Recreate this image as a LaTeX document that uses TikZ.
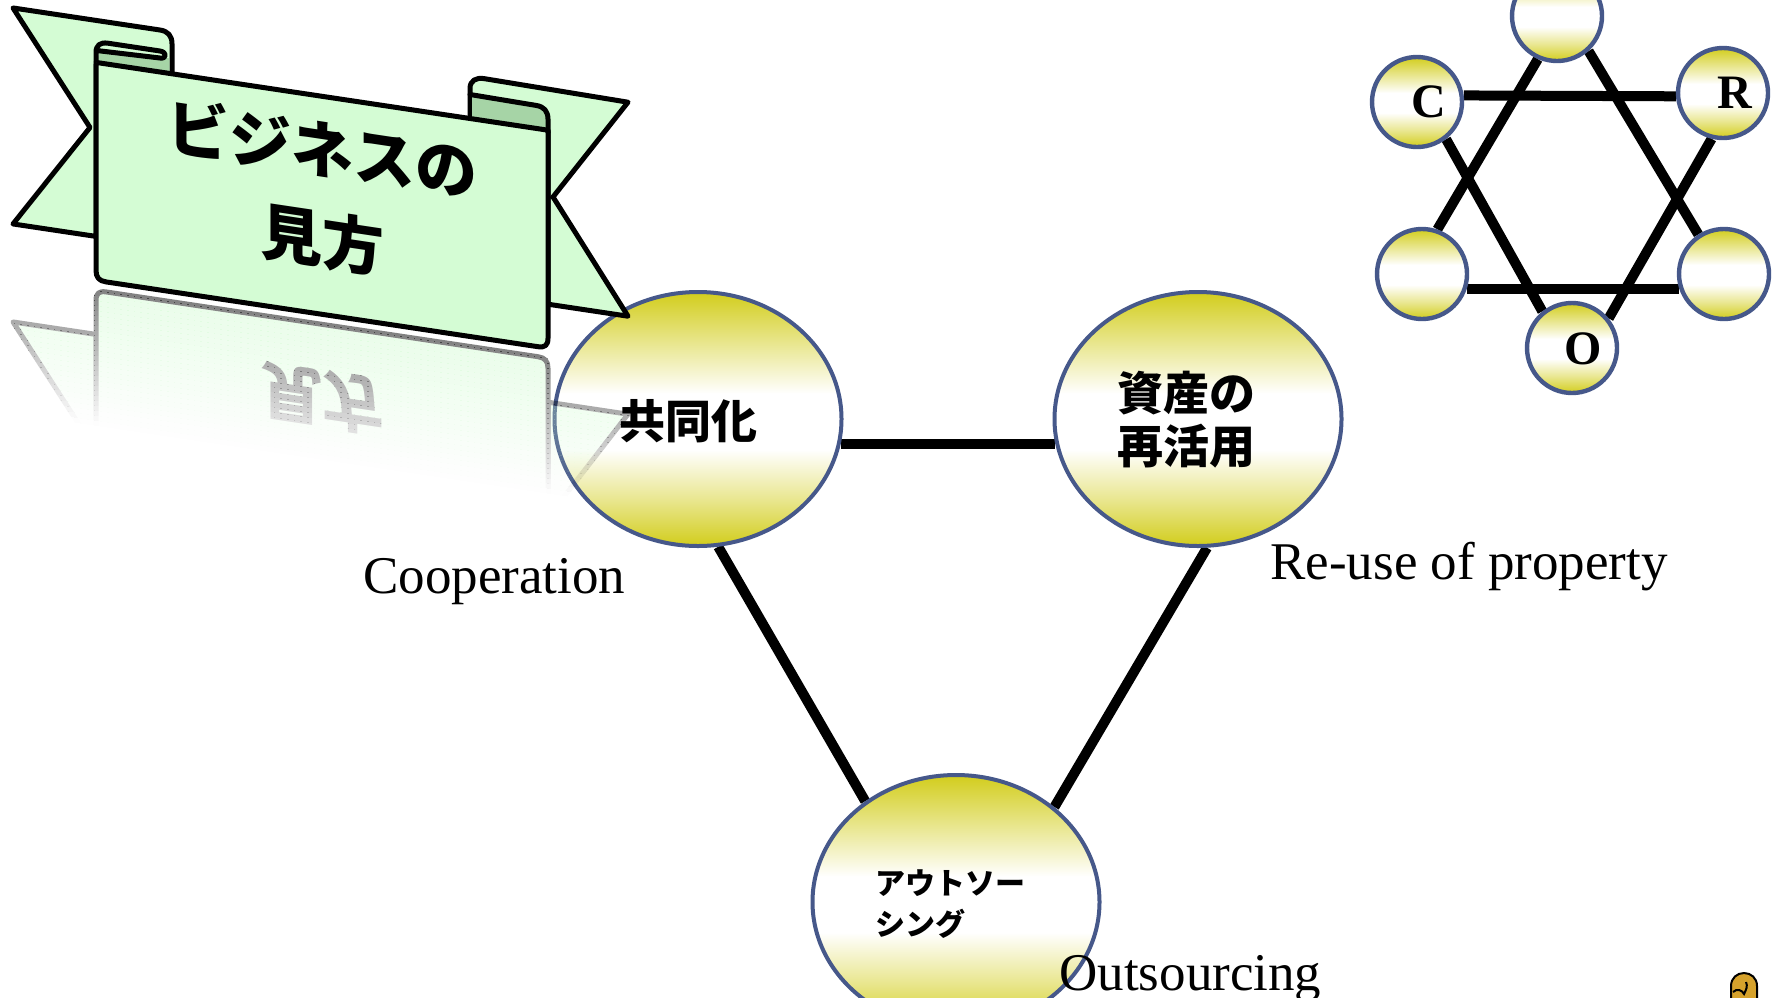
\documentclass[tikz,border=0pt]{standalone}
\usepackage{fontspec}
\setmainfont{Liberation Serif}
\newfontfamily\jp{Noto Sans CJK JP}
\usetikzlibrary{shapes.geometric}
\pgfdeclarelayer{bg}
\pgfsetlayers{bg,main}

\definecolor{ribbon}{RGB}{212,252,212}
\definecolor{ribbondark}{RGB}{166,212,166}
\definecolor{bubbleedge}{RGB}{70,88,138}
\definecolor{bubbleyellow}{RGB}{210,205,28}
\definecolor{badge}{RGB}{214,162,44}

% yellow top and bottom, broad white band just below the middle
\pgfdeclareverticalshading{bubbleshade}{100bp}{%
  color(0bp)=(bubbleyellow); color(25bp)=(bubbleyellow);
  color(34bp)=(bubbleyellow!50!white); color(44bp)=(white);
  color(55bp)=(white); color(65bp)=(bubbleyellow!50!white);
  color(75bp)=(bubbleyellow); color(100bp)=(bubbleyellow)}

% Banner drawn in its own (unslanted) frame, in pixel units
\newcommand\ribbonshapes{%
  % left tail
  \path[rib] (13,6) -- (160,6) .. controls (168,6) and (172,10) .. (172,18)
     -- (172,50) -- (96,50) -- (96,222) -- (13,222) -- (90,114) -- cycle;
  % right tail
  \path[rib] (628,8) -- (484,6) .. controls (476,6) and (470,10) .. (470,18)
     -- (470,50) -- (548,50) -- (548,222) -- (628,222) -- (553,114) -- cycle;
  % inner sides of the two folds
  \fill[ribbondark] (100,33) -- (169,33) -- (169,48) -- (97,48) -- cycle;
  \fill[ribbondark] (472,24) -- (536,25) .. controls (544,25) and (548,29) .. (548,37)
     -- (548,48) -- (472,48) -- cycle;
  % front panel
  \path[rib] (96,48) -- (96,256) .. controls (96,263) and (99,266) .. (106,266)
     -- (538,266) .. controls (545,266) and (548,263) .. (548,256) -- (548,48) -- cycle;
  % rolled edges
  \path[rib] (96,48) -- (96,38) .. controls (96,31) and (100,27) .. (108,27)
     -- (160,27) .. controls (167,27) and (167,34) .. (160,34) -- (97,36);
  \draw[ribline] (470,24) -- (536,25) .. controls (544,25) and (548,29) .. (548,37) -- (548,50);
  \node[transform shape, font=\jp\bfseries\fontsize{31}{45}\selectfont, align=center,
        inner sep=0pt] (bannertitle) at (322,146) {ビジネスの\\見方};
}

\begin{document}
\begin{tikzpicture}[x=0.5pt, y=-0.5pt,
  rib/.style={fill=ribbon, draw=black, line width=2.5pt, line join=round},
  ribline/.style={draw=black, line width=2.5pt, line cap=round, line join=round},
  bubble/.style={ellipse, draw=bubbleedge, line width=2pt, shading=bubbleshade,
     minimum width=143.5pt, minimum height=127pt, inner sep=0pt},
  dot/.style={circle, draw=bubbleedge, line width=2.2pt, shading=bubbleshade,
     minimum size=45pt, inner sep=0pt},
  link/.style={draw=black, line width=5pt},
  jptext/.style={font=\jp\bfseries\fontsize{23}{26.5}\selectfont, align=center, inner sep=0pt},
  jpsmall/.style={font=\jp\bfseries\fontsize{15}{20.5}\selectfont, align=left, inner sep=0pt},
  entext/.style={font=\fontsize{26.5}{30}\selectfont, inner sep=0pt},
  letter/.style={font=\bfseries\fontsize{24}{24}\selectfont, inner sep=0pt}]
\useasboundingbox (0,0) rectangle (1781,997);
\clip (0,0) rectangle (1781,997);
\begin{pgfonlayer}{bg}
  \fill[white] (0,0) rectangle (1781,997);
\end{pgfonlayer}

% three main bubbles
\node[bubble] (coop) at (698,419) {};
\node[bubble] (reuse) at (1198,419) {};
\node[bubble] (outs) at (956,902) {};
\node[jptext] (coopjp) at (688,421) {共同化};
\node[jptext] (reusejp) at (1186,420) {資産の\\再活用};
\node[jpsmall, anchor=west] (outsjp) at (875,904) {アウトソー\\シング};

% hexagram of small bubbles
\node[dot] (hT) at (1557,16) {};
\node[dot] (hC) at (1417,102) {};
\node[dot] (hR) at (1723,93) {};
\node[dot] (hL) at (1422,274) {};
\node[dot] (hRB) at (1724,274) {};
\node[dot] (hO) at (1572,348) {};
\node[letter] (lC) at (1429,102) {C};
\node[letter] (lR) at (1735,93) {R};
\node[letter] (lO) at (1583,349) {O};

\begin{pgfonlayer}{bg}
  \draw[link] (coop.-10) -- (reuse.190);
  \draw[link] (coop.-81) -- (outs.132);
  \draw[link] (reuse.-86) -- (outs.44);
  \draw[link] (hC.8) -- (hR.184);
  \draw[link] (hL.-18) -- (hRB.198);
  \draw[link] (hT.246) -- (hL.71);
  \draw[link] (hT.-48) -- (hRB.123);
  \draw[link] (hC.-52) -- (hO.129);
  \draw[link] (hR.256) -- (hO.39);
\end{pgfonlayer}

% English captions
\node[entext, anchor=base west] (coopen) at (363,593) {Cooperation};
\node[entext, anchor=base west] (reuseen) at (1270,579) {Re-use of property};
\node[entext, anchor=base west] (outsen) at (1059,990) {Outsourcing};

% slanted banner with its fading mirror image
\begin{scope}[yslant=-0.15]
  \foreach \i in {0,...,27}{
    \pgfmathsetmacro\ya{271+\i*5}
    \pgfmathsetmacro\yb{271+(\i+1)*5}
    \pgfmathsetmacro\al{0.5*(1-(\i+0.5)/28)}
    \begin{scope}
      \clip (-20,\ya) rectangle (700,\yb);
      \begin{scope}[transparency group, opacity=\al, shift={(0,542)}, yscale=-1]
        \ribbonshapes
      \end{scope}
    \end{scope}
  }
  \ribbonshapes
\end{scope}

% corner badge
\path[draw=black, line width=1pt, fill=badge] (1731,1000) -- (1731,986)
  .. controls (1731,978) and (1737,973) .. (1744,973)
  .. controls (1751,973) and (1757,978) .. (1757,986) -- (1757,1000);
\draw[line width=1pt] (1733,992) .. controls (1737,988) and (1742,990) .. (1744,994)
  .. controls (1746,990) and (1748,986) .. (1746,982);
\end{tikzpicture}
\end{document}
